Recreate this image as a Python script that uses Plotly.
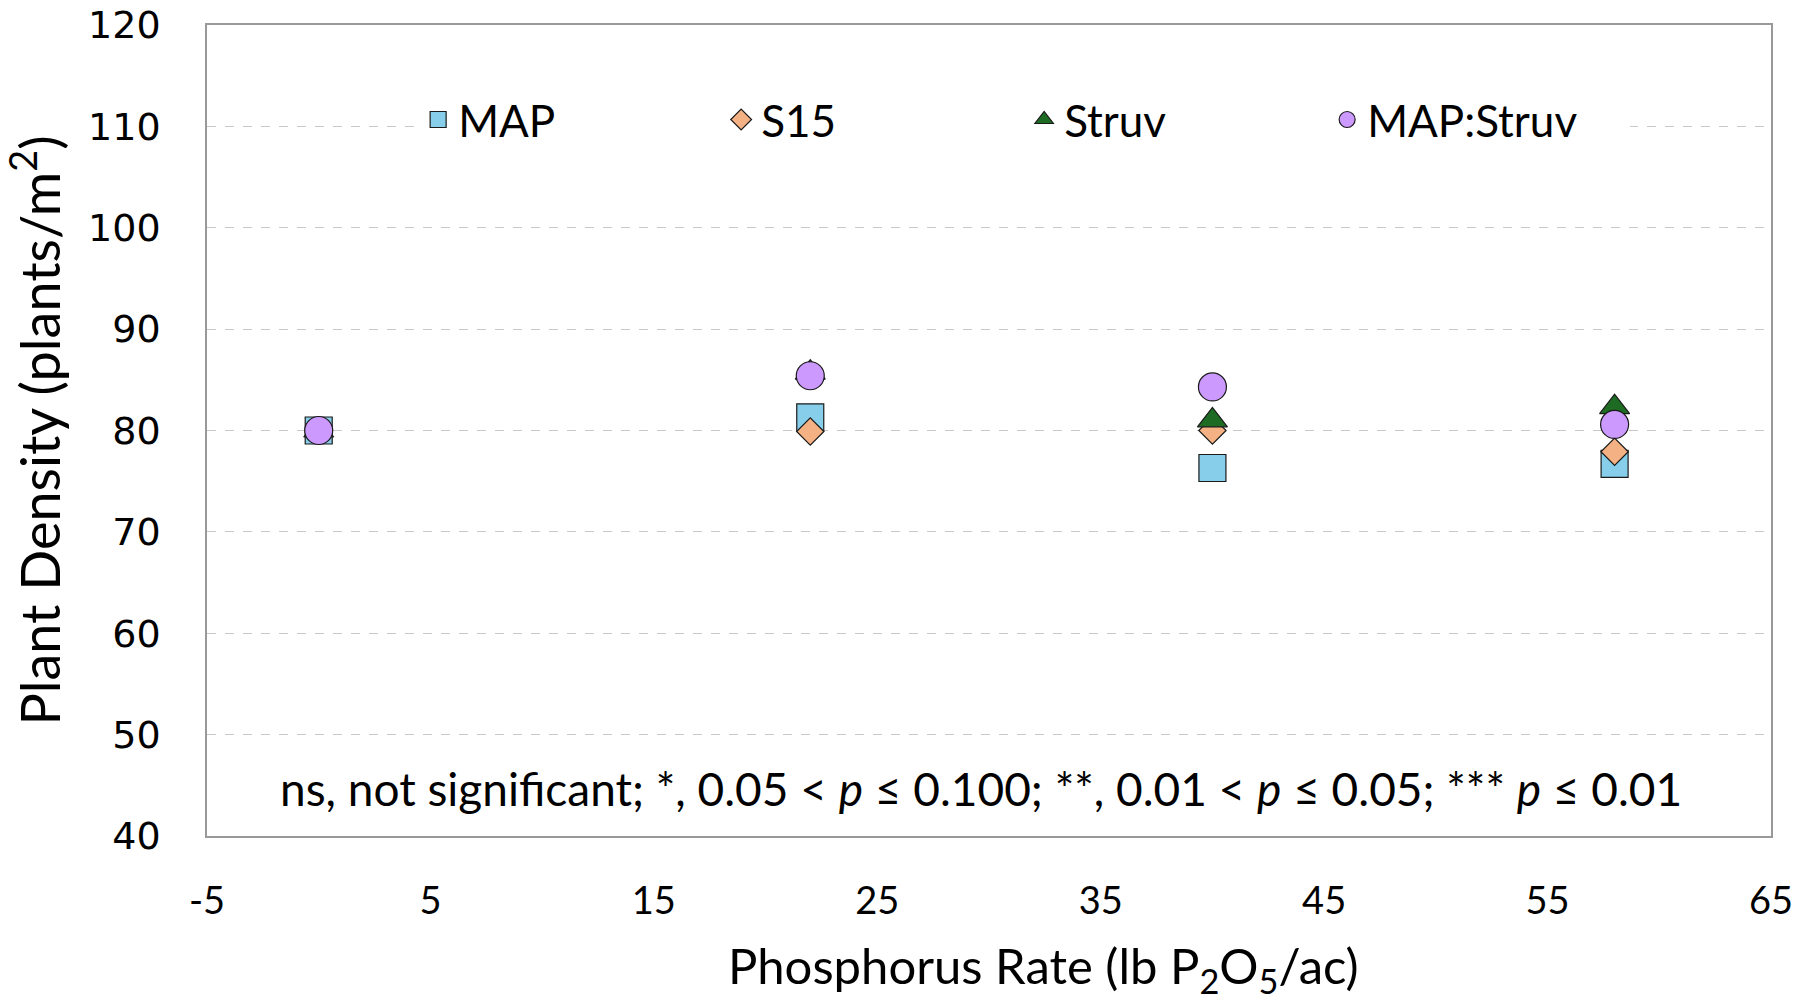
import plotly.graph_objects as go

rates = [0, 22, 40, 58]
map_vals = [80.0, 81.3, 76.3, 76.7]
s15_vals = [80.0, 79.9, 80.0, 77.9]
struv_vals = [80.0, 85.7, 81.0, 82.3]
mapstruv_vals = [80.0, 85.4, 84.3, 80.6]

x_ticks = [-5, 5, 15, 25, 35, 45, 55, 65]
x_tick_labels = ["-5", "5", "15", "25", "35", "45", "55", "65"]
y_ticks = [40, 50, 60, 70, 80, 90, 100, 110, 120]

series = [
    ("MAP", map_vals, "square", "#87CEEB", 27),
    ("S15", s15_vals, "diamond", "#F4B183", 21),
    ("Struv", struv_vals, "triangle-up", "#1E6B23", 26),
    ("MAP:Struv", mapstruv_vals, "circle", "#CC99FF", 28),
]

font_main = "Lato, 'Open Sans', sans-serif"

fig = go.Figure()
for name, vals, sym, col, sz in series:
    fig.add_trace(go.Scatter(
        x=rates, y=vals, mode="markers", name=name,
        marker=dict(symbol=sym, color=col, size=sz,
                    line=dict(color="#1a1a1a", width=1.2)),
    ))

fig.add_annotation(
    x=0.495, y=44.7, xref="paper", yref="y",
    text="ns, not significant; *, 0.05 < <i>p</i> ≤ 0.100; **, 0.01 < <i>p</i> ≤ 0.05; *** <i>p</i> ≤ 0.01",
    showarrow=False, font=dict(size=46, family=font_main, color="black"),
    xanchor="center", yanchor="middle",
)

fig.add_annotation(
    x=0.535, y=-0.163, xref="paper", yref="paper",
    text="Phosphorus Rate (lb P<sub>2</sub>O<sub>5</sub>/ac)",
    showarrow=False, font=dict(size=49, family=font_main, color="black"),
    xanchor="center", yanchor="middle",
)

fig.update_layout(
    width=1800, height=1000,
    paper_bgcolor="white", plot_bgcolor="white",
    margin=dict(l=207, r=29, t=25, b=164),
    font=dict(family=font_main, color="black"),
    showlegend=True,
    legend=dict(
        orientation="h", x=0.135, y=0.883, xanchor="left", yanchor="middle",
        entrywidth=258, entrywidthmode="pixels",
        font=dict(size=44, family=font_main, color="black"),
        bgcolor="white", itemsizing="trace",
    ),
    xaxis=dict(
        range=[-5, 65], tickvals=x_ticks, ticktext=x_tick_labels,
        showgrid=False, zeroline=False, automargin=False,
        showline=True, linecolor="#999999", linewidth=1.5, mirror=True,
        ticks="", ticklabelstandoff=31, ticklabeloverflow="allow",
        tickfont=dict(size=38, family=font_main, color="black"),
    ),
    yaxis=dict(
        range=[40, 120], tickvals=y_ticks,
        showgrid=True, gridcolor="#c8c8c8", griddash="dash", gridwidth=1.3,
        zeroline=False, automargin=False,
        showline=True, linecolor="#999999", linewidth=1.5, mirror=True,
        ticks="", ticklabelstandoff=37, ticklabeloverflow="allow",
        tickfont=dict(size=38, family="'DejaVu Sans', sans-serif", color="black"),
        title=dict(text="Plant Density (plants/m<sup>2</sup>)",
                   font=dict(size=54, family=font_main, color="black"), standoff=13),
    ),
)

fig.write_html("out.html", config={"displayModeBar": False},
               post_script="document.body.style.margin='0';document.body.style.overflow='hidden';")
